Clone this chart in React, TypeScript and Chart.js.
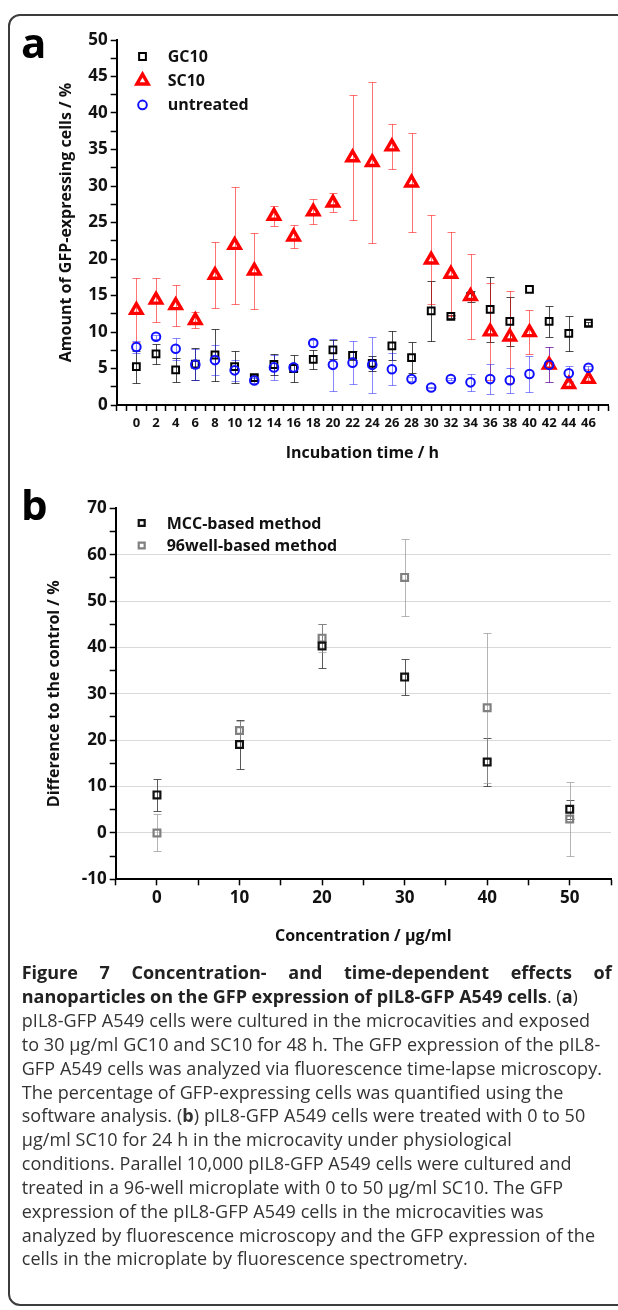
import React, { useEffect, useRef } from 'react';
import { Chart, registerables } from 'chart.js';

Chart.register(...registerables);

// ---------- Panel a data ----------
const hours = [0, 2, 4, 6, 8, 10, 12, 14, 16, 18, 20, 22, 24, 26, 28, 30, 32, 34, 36, 38, 40, 42, 44, 46];
const gc10 = [5.25, 7.0, 4.8, 5.6, 6.85, 5.25, 3.75, 5.55, 5.0, 6.25, 7.55, 6.8, 5.7, 8.1, 6.5, 12.9, 12.15, 14.85, 13.1, 11.45, 15.85, 11.45, 9.8, 11.2];
const gc10Err = [2.2, 1.4, 1.6, 2.2, 3.5, 2.2, 0.3, 1.4, 1.8, 1.3, 1.3, 0.6, 1.0, 2.0, 2.1, 4.1, 0.2, 0.8, 4.5, 3.3, 0, 2.1, 2.4, 0.2];
const sc10 = [13.0, 14.4, 13.65, 11.6, 17.8, 21.9, 18.4, 25.9, 23.05, 26.5, 27.7, 33.9, 33.25, 35.4, 30.45, 19.9, 17.95, 14.9, 10.05, 9.35, 9.95, 5.5, 2.85, 3.55];
const sc10Err = [4.4, 3.0, 2.8, 1.1, 4.5, 8.0, 5.2, 1.4, 1.6, 1.75, 1.3, 8.5, 11.0, 3.1, 6.8, 6.1, 5.8, 5.8, 6.6, 6.3, 3.0, 2.4, 0.3, 0.3];
const untreated = [7.95, 9.35, 7.7, 5.55, 6.15, 4.75, 3.35, 5.15, 5.15, 8.5, 5.5, 5.8, 5.5, 4.9, 3.55, 2.4, 3.55, 3.1, 3.55, 3.4, 4.25, 5.5, 4.35, 5.1];
const untreatedErr = [0.8, 0.3, 1.5, 2.1, 2.1, 1.4, 0.4, 1.7, 0.5, 0.4, 3.6, 2.9, 3.8, 2.2, 0.3, 0.1, 0.1, 1.2, 2.0, 1.7, 2.5, 2.4, 1.0, 0.2];
const aXTickLabels = [0, 2, 4, 6, 8, 10, 12, 14, 16, 18, 20, 22, 24, 26, 28, 30, 32, 34, 36, 38, 40, 42, 44, 46];
const aYTickLabels = [0, 5, 10, 15, 20, 25, 30, 35, 40, 45, 50];

// ---------- Panel b data ----------
const conc = [0, 10, 20, 30, 40, 50];
const mcc = [8.2, 19.05, 40.3, 33.6, 15.3, 5.1];
const mccErr = [3.4, 5.2, 4.8, 3.8, 5.2, 2.0];
const well96 = [0, 22.1, 42.0, 55.1, 27.0, 3.0];
const well96Err = [4.0, 2.0, 3.0, 8.3, 16.2, 8.0];
const bXTickLabels = [0, 10, 20, 30, 40, 50];
const bYTickLabels = [-10, 0, 10, 20, 30, 40, 50, 60, 70];
const bGridValues = [0, 10, 20, 30, 40, 50, 60];

const FONT = "'Open Sans', sans-serif";

function drawMarker(ctx: CanvasRenderingContext2D, style: string, x: number, y: number, r: number, color: string, lw: number) {
  ctx.save();
  ctx.strokeStyle = color;
  ctx.fillStyle = '#fff';
  ctx.lineWidth = lw;
  ctx.beginPath();
  if (style === 'rect') {
    const s = r * Math.SQRT1_2;
    ctx.rect(x - s, y - s, 2 * s, 2 * s);
  } else if (style === 'triangle') {
    for (let k = 0; k < 3; k++) {
      const a = (k * 2 * Math.PI) / 3;
      const px = x + Math.sin(a) * r;
      const py = y - Math.cos(a) * r;
      if (k === 0) ctx.moveTo(px, py);
      else ctx.lineTo(px, py);
    }
    ctx.closePath();
  } else {
    ctx.arc(x, y, r, 0, Math.PI * 2);
  }
  ctx.fill();
  ctx.stroke();
  ctx.restore();
}

const errorBarPlugin = {
  id: 'errorBars',
  beforeDatasetsDraw(chart: any) {
    const { ctx } = chart;
    const yScale = chart.scales.y;
    chart.data.datasets.forEach((ds: any, di: number) => {
      const errs: number[] | undefined = ds.errors;
      if (!errs) return;
      const meta = chart.getDatasetMeta(di);
      ctx.save();
      ctx.strokeStyle = ds.errorColor;
      ctx.lineWidth = 1;
      meta.data.forEach((pt: any, i: number) => {
        const e = errs[i];
        if (!e) return;
        const v = ds.data[i].y;
        const yt = Math.round(yScale.getPixelForValue(v + e)) + 0.5;
        const yb = Math.round(yScale.getPixelForValue(v - e)) + 0.5;
        const x = Math.round(pt.x) + 0.5;
        const cap = 4;
        ctx.beginPath();
        ctx.moveTo(x, yt);
        ctx.lineTo(x, yb);
        ctx.moveTo(x - cap, yt);
        ctx.lineTo(x + cap, yt);
        ctx.moveTo(x - cap, yb);
        ctx.lineTo(x + cap, yb);
        ctx.stroke();
      });
      ctx.restore();
    });
  },
};

const legendPlugin = {
  id: 'innerLegend',
  afterDraw(chart: any, _args: any, opts: any) {
    if (!opts || !opts.show) return;
    const { ctx, chartArea } = chart;
    const order: number[] = opts.order;
    order.forEach((di, row) => {
      const ds = chart.data.datasets[di];
      const y = chartArea.top + opts.top + row * opts.gap;
      const mx = chartArea.left + opts.markerX;
      drawMarker(ctx, ds.pointStyle, mx, y, opts.markerR ?? ds.pointRadius, ds.pointBorderColor, ds.pointBorderWidth);
      ctx.save();
      ctx.fillStyle = '#111';
      ctx.font = `bold 16px ${FONT}`;
      ctx.textBaseline = 'middle';
      ctx.textAlign = 'left';
      ctx.fillText(ds.label, chartArea.left + opts.textX, y + 1);
      ctx.restore();
    });
  },
};

function axisCommon() {
  return {
    border: { display: true, color: '#000', width: 2 },
    grid: {
      drawOnChartArea: false,
      drawTicks: true,
      tickLength: 6,
      tickColor: '#000',
      tickWidth: 1.5,
    },
  };
}

function ChartA() {
  const ref = useRef<HTMLCanvasElement | null>(null);
  useEffect(() => {
    if (!ref.current) return;
    const mk = (arr: number[]) => hours.map((h, i) => ({ x: h, y: arr[i] }));
    const chart = new Chart(ref.current, {
      type: 'scatter',
      data: {
        datasets: [
          {
            label: 'GC10', data: mk(gc10), pointStyle: 'rect', pointRadius: 4.8, pointBorderWidth: 2,
            pointBorderColor: '#000', pointBackgroundColor: 'rgba(255,255,255,0)', borderColor: '#000', backgroundColor: 'transparent',
            order: 3, errors: gc10Err, errorColor: 'rgba(0,0,0,0.7)',
          } as any,
          {
            label: 'SC10', data: mk(sc10), pointStyle: 'triangle', pointRadius: 6.5, pointBorderWidth: 3.4,
            pointBorderColor: '#ff0000', pointBackgroundColor: 'rgba(255,255,255,0)', borderColor: '#ff0000', backgroundColor: 'transparent',
            order: 2, errors: sc10Err, errorColor: 'rgba(255,0,0,0.55)',
          } as any,
          {
            label: 'untreated', data: mk(untreated), pointStyle: 'circle', pointRadius: 4.3, pointBorderWidth: 2,
            pointBorderColor: '#1010ff', pointBackgroundColor: 'rgba(255,255,255,0)', borderColor: '#1010ff', backgroundColor: 'transparent',
            order: 1, errors: untreatedErr, errorColor: 'rgba(20,20,255,0.5)',
          } as any,
        ],
      },
      options: {
        responsive: false,
        animation: false,
        layout: { padding: { top: 40, right: 6, left: 0, bottom: 0 } },
        plugins: {
          legend: { display: false },
          tooltip: { enabled: false },
          innerLegend: { show: true, order: [0, 1, 2], top: 16.5, gap: 24.2, markerX: 25.8, textX: 51, markerR: null },
        } as any,
        scales: {
          x: {
            type: 'linear', min: -2, max: 48,
            ...axisCommon(),
            ticks: {
              stepSize: 1, autoSkip: false, maxRotation: 0, minRotation: 0, padding: 4,
              color: '#111', font: { family: FONT, weight: 'bold', size: 13 },
              callback: (v: any) => (aXTickLabels.includes(Number(v)) ? String(v) : ''),
            },
            title: {
              display: true, text: 'Incubation time / h', color: '#111',
              font: { family: FONT, weight: 'bold', size: 16 }, padding: { top: 0, bottom: 17.4 },
            },
            afterFit: (s: any) => { s.height = 75; },
          },
          y: {
            type: 'linear', min: 0, max: 50,
            ...axisCommon(),
            ticks: {
              stepSize: 2.5, autoSkip: false, padding: 3,
              color: '#111', font: { family: FONT, weight: 'bold', size: 17 },
              callback: (v: any) => (aYTickLabels.includes(Number(v)) ? String(v) : ''),
            },
            title: {
              display: true, text: 'Amount of GFP-expressing cells / %', color: '#111',
              font: { family: FONT, weight: 'bold', size: 16 }, padding: { top: 56.4, bottom: 0 },
            },
            afterFit: (s: any) => { s.width = 116.7; },
          },
        } as any,
      },
      plugins: [errorBarPlugin, legendPlugin],
    } as any);
    return () => chart.destroy();
  }, []);
  return <canvas ref={ref} width={618} height={480} style={{ position: 'absolute', left: 0, top: 0, display: 'block' }} />;
}

function ChartB() {
  const ref = useRef<HTMLCanvasElement | null>(null);
  useEffect(() => {
    if (!ref.current) return;
    const mk = (arr: number[]) => conc.map((c, i) => ({ x: c, y: arr[i] }));
    const chart = new Chart(ref.current, {
      type: 'scatter',
      data: {
        datasets: [
          {
            label: 'MCC-based method', data: mk(mcc), pointStyle: 'rect', pointRadius: 4.8, pointBorderWidth: 2.2,
            pointBorderColor: '#111', pointBackgroundColor: 'rgba(255,255,255,0)', borderColor: '#111', backgroundColor: 'transparent',
            order: 1, errors: mccErr, errorColor: 'rgba(60,60,60,0.85)',
          } as any,
          {
            label: '96well-based method', data: mk(well96), pointStyle: 'rect', pointRadius: 4.8, pointBorderWidth: 2.2,
            pointBorderColor: '#808080', pointBackgroundColor: 'rgba(255,255,255,0)', borderColor: '#808080', backgroundColor: 'transparent',
            order: 2, errors: well96Err, errorColor: 'rgba(150,150,150,0.7)',
          } as any,
        ],
      },
      options: {
        responsive: false,
        animation: false,
        layout: { padding: { top: 38.3, right: 0, left: 0, bottom: 0 } },
        plugins: {
          legend: { display: false },
          tooltip: { enabled: false },
          innerLegend: { show: true, order: [0, 1], top: 14.7, gap: 22.5, markerX: 26, textX: 51, markerR: 4.2 },
        } as any,
        scales: {
          x: {
            type: 'linear', min: -5, max: 55,
            ...axisCommon(),
            ticks: {
              stepSize: 5, autoSkip: false, maxRotation: 0, minRotation: 0, padding: 3,
              color: '#111', font: { family: FONT, weight: 'bold', size: 17 },
              callback: (v: any) => (bXTickLabels.includes(Number(v)) ? String(v) : ''),
            },
            title: {
              display: true, text: 'Concentration / µg/ml', color: '#111',
              font: { family: FONT, weight: 'bold', size: 16 }, padding: { top: 0, bottom: 14.4 },
            },
            afterFit: (s: any) => { s.height = 80.7; },
          },
          y: {
            type: 'linear', min: -10, max: 70,
            border: { display: true, color: '#000', width: 2 },
            grid: {
              drawOnChartArea: true,
              drawTicks: true,
              tickLength: 6,
              tickColor: '#000',
              tickWidth: 1.5,
              lineWidth: 1,
              color: (c: any) => (c.tick && bGridValues.includes(Number(c.tick.value)) ? '#d9d9d9' : 'rgba(0,0,0,0)'),
            },
            ticks: {
              stepSize: 5, autoSkip: false, padding: 3,
              color: '#111', font: { family: FONT, weight: 'bold', size: 17 },
              callback: (v: any) => (bYTickLabels.includes(Number(v)) ? String(v) : ''),
            },
            title: {
              display: true, text: 'Difference to the control / %', color: '#111',
              font: { family: FONT, weight: 'bold', size: 16 }, padding: { top: 44.9, bottom: 0 },
            },
            afterFit: (s: any) => { s.width = 115.7; },
          },
        } as any,
      },
      plugins: [errorBarPlugin, legendPlugin],
    } as any);
    return () => chart.destroy();
  }, []);
  return <canvas ref={ref} width={618} height={490} style={{ position: 'absolute', left: 0, top: 470, display: 'block' }} />;
}

const captionStyle: React.CSSProperties = {
  position: 'absolute',
  left: 21.7,
  top: 961.4,
  width: 590,
  fontFamily: FONT,
  fontSize: 18,
  letterSpacing: '0.08px',
  lineHeight: '23.83px',
  color: '#333',
  whiteSpace: 'nowrap',
};

export default function App() {
  return (
    <div style={{ position: 'absolute', left: 0, top: 0, width: 618, height: 1310, overflow: 'hidden', background: '#fff' }}>
      <div style={{ position: 'absolute', left: 8, top: 14, width: 660, height: 1292, border: '2px solid #3c3c3c', borderRadius: 12, boxSizing: 'border-box' }} />
      <ChartA />
      <ChartB />
      <div style={{ position: 'absolute', left: 21, top: 12, fontFamily: FONT, fontWeight: 'bold', fontSize: 42, lineHeight: '60px', color: '#000' }}>a</div>
      <div style={{ position: 'absolute', left: 21, top: 474, fontFamily: FONT, fontWeight: 'bold', fontSize: 42, lineHeight: '60px', color: '#000' }}>b</div>
      <div style={captionStyle}>
        <div style={{ fontWeight: 'bold', textAlign: 'justify', textAlignLast: 'justify', width: 590, color: '#222', letterSpacing: 0 }}>
          Figure 7 Concentration- and time-dependent effects of
        </div>
        <div style={{ color: '#222', letterSpacing: 0 }}>
          <b>nanoparticles on the GFP expression of pIL8-GFP A549 cells</b>. (<b>a</b>)
        </div>
        <div>pIL8-GFP A549 cells were cultured in the microcavities and exposed</div>
        <div>to 30 µg/ml GC10 and SC10 for 48 h. The GFP expression of the pIL8-</div>
        <div>GFP A549 cells was analyzed via fluorescence time-lapse microscopy.</div>
        <div>The percentage of GFP-expressing cells was quantified using the</div>
        <div>software analysis. (<b>b</b>) pIL8-GFP A549 cells were treated with 0 to 50</div>
        <div>µg/ml SC10 for 24 h in the microcavity under physiological</div>
        <div>conditions. Parallel 10,000 pIL8-GFP A549 cells were cultured and</div>
        <div>treated in a 96-well microplate with 0 to 50 µg/ml SC10. The GFP</div>
        <div>expression of the pIL8-GFP A549 cells in the microcavities was</div>
        <div>analyzed by fluorescence microscopy and the GFP expression of the</div>
        <div>cells in the microplate by fluorescence spectrometry.</div>
      </div>
    </div>
  );
}
